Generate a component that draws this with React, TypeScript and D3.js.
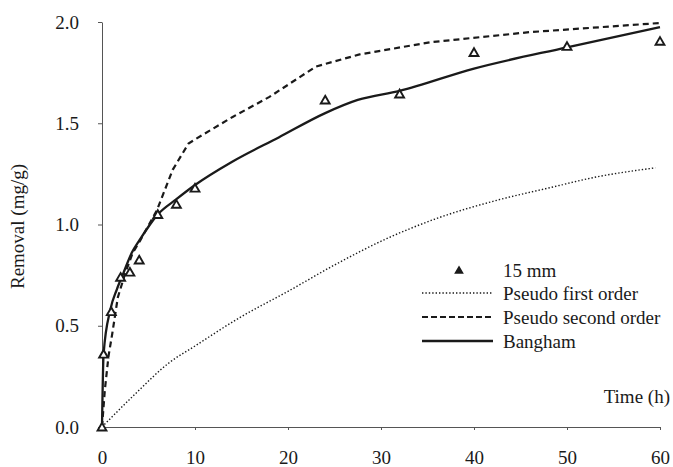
import React, { useRef, useEffect } from 'react'
import * as d3 from 'd3'

// measured removal for 15 mm
const obsTime = [0, 0.17, 1, 2, 3, 4, 6, 8, 10, 24, 32, 40, 50, 60]
const obsRemoval = [0, 0.36, 0.57, 0.74, 0.765, 0.825, 1.05, 1.1, 1.18, 1.615, 1.645, 1.85, 1.88, 1.905]

// model curves
const pfoTime = [0, 3.5, 7.3, 10, 14.8, 20, 25, 30.6, 36, 42.5, 48, 53.2, 59.5]
const pfoRemoval = [0, 0.16, 0.32, 0.4, 0.54, 0.67, 0.8, 0.93, 1.03, 1.12, 1.18, 1.235, 1.28]

const psoTime = [0, 0.3, 0.7, 1.1, 1.7, 2.5, 3.3, 4.1, 5.9, 7.6, 9.3, 10, 14, 18, 23, 27.7, 35.3, 46, 60]
const psoRemoval = [0, 0.18, 0.35, 0.46, 0.64, 0.76, 0.86, 0.92, 1.07, 1.27, 1.4, 1.42, 1.53, 1.63, 1.78, 1.84, 1.9, 1.95, 1.995]

const banghamTime = [0, 0.17, 0.9, 1.6, 2.3, 3.2, 4, 6, 8, 10, 14, 19, 24, 27.5, 32, 40, 50, 60]
const banghamRemoval = [0, 0.36, 0.58, 0.68, 0.76, 0.86, 0.92, 1.05, 1.125, 1.195, 1.31, 1.43, 1.55, 1.615, 1.66, 1.77, 1.875, 1.975]

const xTicks = [0, 10, 20, 30, 40, 50, 60]
const yTicks = [0, 0.5, 1.0, 1.5, 2.0]

const legendLabels = ['15 mm', 'Pseudo first order', 'Pseudo second order', 'Bangham']

const W = 673
const H = 467
const margin = { top: 22, right: 13, bottom: 40, left: 102 }
const font = "'Liberation Serif', 'DejaVu Serif', Tinos, 'Times New Roman', serif"
const ink = '#1a1a1a'

const pairs = (t: number[], q: number[]) => t.map((d, i) => ({ t: d, q: q[i] }))

function App() {
  const xRef = useRef<SVGGElement>(null)
  const yRef = useRef<SVGGElement>(null)

  const x = d3.scaleLinear().domain([0, 60]).range([margin.left, W - margin.right])
  const y = d3.scaleLinear().domain([0, 2]).range([H - margin.bottom, margin.top])

  useEffect(() => {
    const xAxis = d3
      .axisBottom(x)
      .tickValues(xTicks)
      .tickSizeInner(3)
      .tickSizeOuter(0)
      .tickPadding(21)
      .tickFormat(d3.format('d'))
    d3.select(xRef.current)
      .call(xAxis)
      .call(g => g.select('.domain').attr('stroke', '#555'))
      .call(g => g.selectAll('.tick line').attr('stroke', '#555'))
      .call(g =>
        g.selectAll('.tick text').style('font-family', font).style('font-size', '19px').attr('fill', ink)
      )

    const yAxis = d3
      .axisLeft(y)
      .tickValues(yTicks)
      .tickSizeInner(4)
      .tickSizeOuter(0)
      .tickPadding(19)
      .tickFormat(d3.format('.1f'))
    d3.select(yRef.current)
      .call(yAxis)
      .call(g => g.select('.domain').attr('stroke', '#555'))
      .call(g => g.selectAll('.tick line').attr('stroke', '#555'))
      .call(g =>
        g.selectAll('.tick text').style('font-family', font).style('font-size', '19px').attr('fill', ink)
      )
  }, [])

  const line = (curve: d3.CurveFactory) =>
    d3
      .line<{ t: number; q: number }>()
      .x(d => x(d.t))
      .y(d => y(d.q))
      .curve(curve)

  const tri = d3.symbol().type(d3.symbolTriangle).size(34)
  const triSmall = d3.symbol().type(d3.symbolTriangle).size(22)

  const lgX0 = 422
  const lgX1 = 493
  const lgText = 503
  const lgY = [270, 293, 317, 341]
  const textStyle = { fontFamily: font, fontSize: '19px' }

  return (
    <svg
      width={W}
      height={H}
      style={{ position: 'absolute', left: 0, top: 0, background: '#fff' }}
    >
      <g ref={xRef} transform={`translate(0,${H - margin.bottom})`} />
      <g ref={yRef} transform={`translate(${margin.left},0)`} />

      <path
        d={line(d3.curveMonotoneX)(pairs(pfoTime, pfoRemoval)) || ''}
        fill="none"
        stroke={ink}
        strokeWidth={1.4}
        strokeDasharray="1.4 2"
      />
      <path
        d={line(d3.curveLinear)(pairs(psoTime, psoRemoval)) || ''}
        fill="none"
        stroke={ink}
        strokeWidth={2.2}
        strokeDasharray="6 4"
      />
      <path
        d={line(d3.curveMonotoneX)(pairs(banghamTime, banghamRemoval)) || ''}
        fill="none"
        stroke={ink}
        strokeWidth={2.3}
      />

      {pairs(obsTime, obsRemoval).map((d, i) => (
        <path
          key={i}
          d={tri() || ''}
          transform={`translate(${x(d.t)},${y(d.q) + 1})`}
          fill="#fff"
          stroke={ink}
          strokeWidth={1.9}
        />
      ))}

      <text
        transform={`translate(24,${(margin.top + H - margin.bottom) / 2 + 2}) rotate(-90)`}
        textAnchor="middle"
        style={textStyle}
        fill={ink}
      >
        Removal (mg/g)
      </text>
      <text x={670} y={403} textAnchor="end" style={textStyle} fill={ink}>
        Time (h)
      </text>

      <g>
        <path
          d={triSmall() || ''}
          transform={`translate(459,${lgY[0] + 1})`}
          fill={ink}
          stroke={ink}
          strokeWidth={1.5}
        />
        <line x1={lgX0} x2={lgX1} y1={lgY[1]} y2={lgY[1]} stroke={ink} strokeWidth={1.4} strokeDasharray="1.4 2" />
        <line x1={lgX0} x2={lgX1} y1={lgY[2]} y2={lgY[2]} stroke={ink} strokeWidth={2.2} strokeDasharray="6 3" />
        <line x1={lgX0} x2={lgX1} y1={lgY[3]} y2={lgY[3]} stroke={ink} strokeWidth={2.3} />
        {legendLabels.map((s, i) => (
          <text key={s} x={lgText} y={lgY[i]} dy="0.35em" style={textStyle} fill={ink}>
            {s}
          </text>
        ))}
      </g>
    </svg>
  )
}

export default App
